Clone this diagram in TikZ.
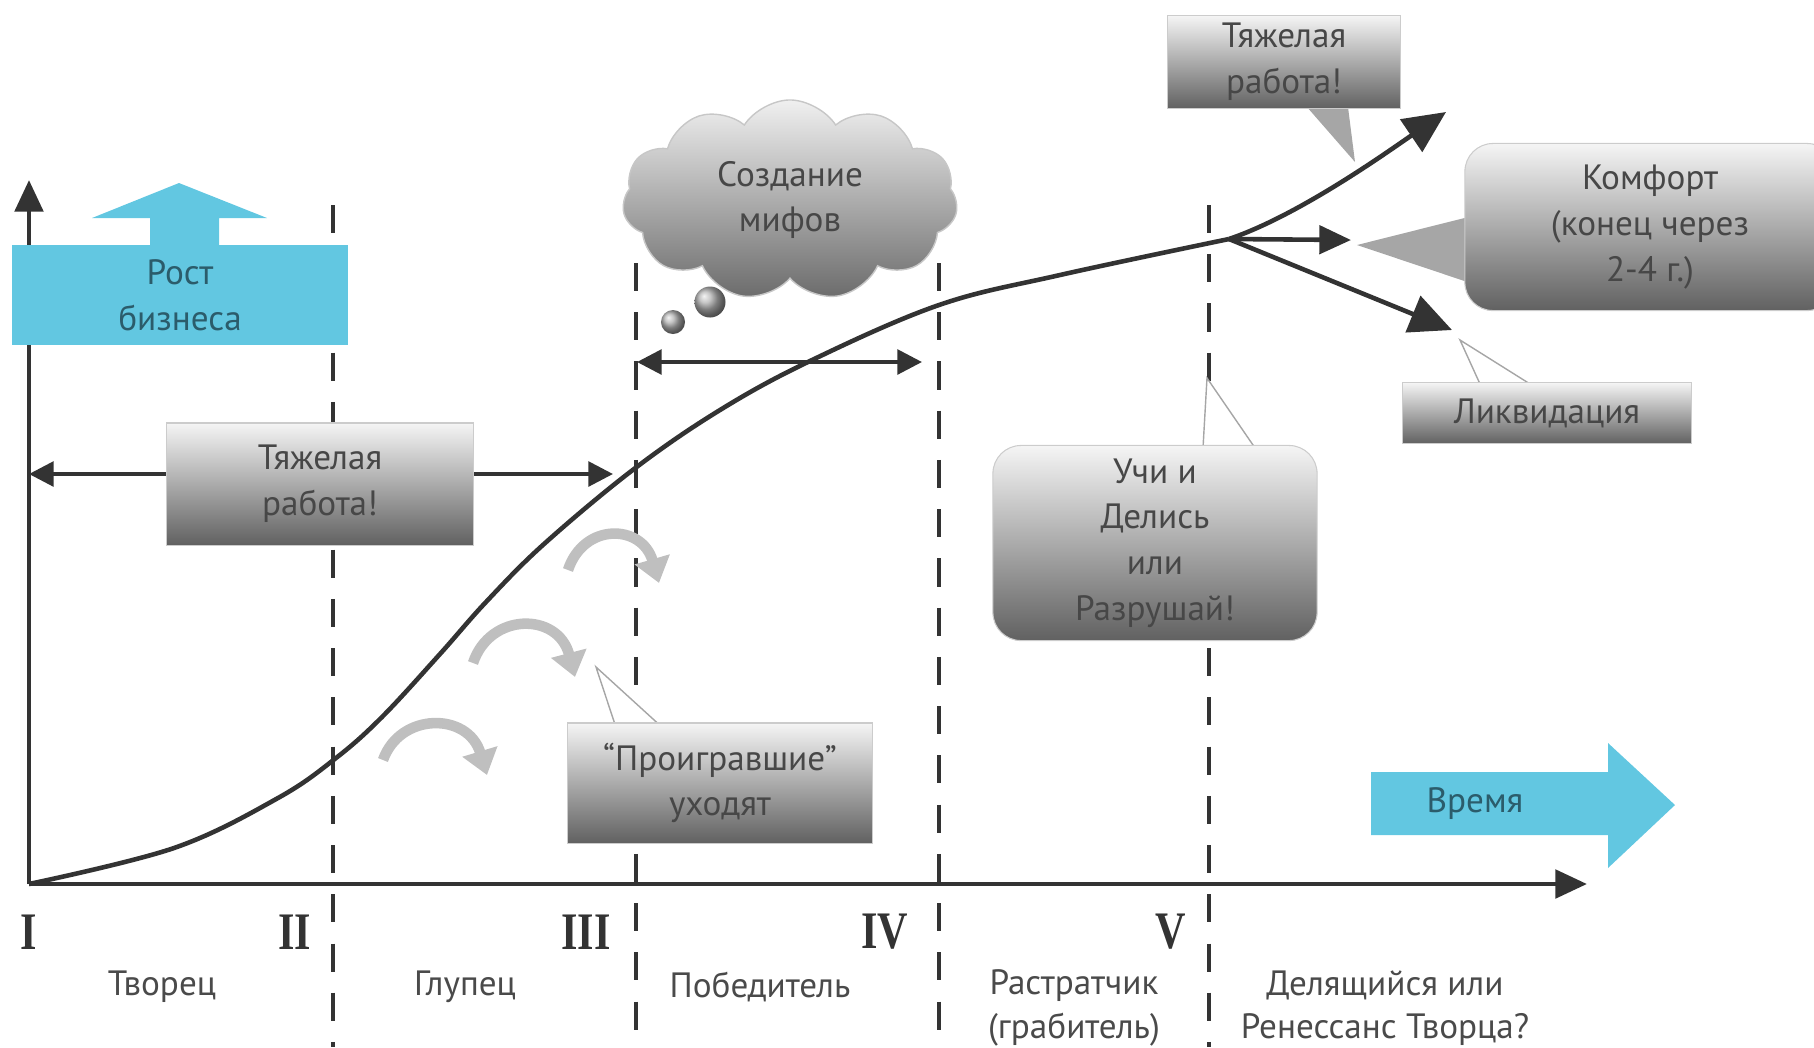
\documentclass[tikz,border=0pt]{standalone}
\usepackage{fontspec}
\setmainfont{PT Sans}
\newfontfamily\romfont[FakeStretch=0.8]{Liberation Serif}
\usepackage{tikz}
\usetikzlibrary{shapes.symbols}
\usetikzlibrary{arrows.meta,calc}

\definecolor{ink}{HTML}{333333}
\definecolor{txt}{HTML}{4A4A4A}
\definecolor{skyb}{HTML}{62C7E1}
\definecolor{skyt}{HTML}{2B5C6B}

\pgfdeclarelayer{back}
\pgfdeclarelayer{mid}
\pgfsetlayers{back,mid,main}

\tikzset{
  gbox/.style={rectangle, top color=black!4, bottom color=black!62, draw=black!20, line width=0.3pt,
    text=black!72, align=center, font=\fontsize{10}{13}\selectfont, inner sep=0pt},
  rbox/.style={gbox, rounded corners=8pt},
  bluebox/.style={rectangle, fill=skyb, text=skyt, align=center, font=\fontsize{10}{13}\selectfont,
    inner sep=0pt, minimum width=3.35cm, minimum height=1cm},
  bubble/.style={circle, ball color=black!30, inner sep=0pt},
  vline/.style={ink, line width=1.1pt, dash pattern=on 8pt off 6pt},
  axis/.style={ink, line width=1.4pt, -{Triangle[length=9pt,width=8pt]}},
  span/.style={ink, line width=1.1pt, -{Triangle[length=7pt,width=7pt]}},
  lifeline/.style={ink, line width=1.3pt},
  callout/.style={draw=black!35, fill=white, line width=0.4pt},
  loser/.style={black!25, line width=3pt, -{Triangle[length=7pt,width=10pt]}},
  lbl/.style={text=txt, font=\fontsize{10}{12.3}\selectfont, align=center, inner sep=0pt},
  num/.style={text=ink, font=\romfont\bfseries\fontsize{15}{15}\selectfont, inner sep=0pt}
}

\begin{document}
\begin{tikzpicture}[x=0.01cm, y=-0.01cm]
\useasboundingbox (0,0) rectangle (1814,1047);

% Nodes
\node[bluebox] (growth) at (180,295) {Рост\\бизнеса};
\node[gbox, minimum width=3.07cm, minimum height=1.22cm] (hard1) at (320,484) {Тяжелая\\работа!};
\node[cloud, cloud puffs=11, cloud puff arc=115, aspect=1.7, minimum width=3.35cm, minimum height=2cm,
  top color=black!6, bottom color=black!58, draw=black!22, text=black!72, align=center,
  font=\fontsize{10}{13}\selectfont, inner sep=0pt] (myth) at (790,200) {Создание\\мифов};
\node[bubble, minimum size=0.31cm] (b1) at (710,302) {};
\node[bubble, minimum size=0.24cm] (b2) at (673,322) {};
\node[gbox, minimum width=3.05cm, minimum height=1.2cm] (lose) at (720,783) {“Проигравшие”\\уходят};
\node[rbox, minimum width=3.24cm, minimum height=1.95cm] (teach) at (1155,543) {Учи и\\Делись\\или\\Разрушай!};
\node[gbox, minimum width=2.32cm, minimum height=0.93cm] (hard2) at (1284,62) {Тяжелая\\работа!};
\node[rbox, minimum width=3.7cm, minimum height=1.67cm] (comf) at (1650,227) {Комфорт\\(конец через\\2-4 г.)};
\node[gbox, minimum width=2.89cm, minimum height=0.61cm] (liq) at (1547,413) {Ликвидация};
\node[text=skyt, font=\fontsize{10}{13}\selectfont, inner sep=0pt] (time) at (1475,804) {Время};

% Stages
\node[num] (n1) at (29,932) {I};
\node[num] (n2) at (295,932) {II};
\node[num] (n3) at (586,932) {III};
\node[num] (n4) at (885,932) {IV};
\node[num] (n5) at (1171,932) {V};
\node[lbl] (s1) at (162,987) {Творец};
\node[lbl] (s2) at (465,987) {Глупец};
\node[lbl] (s3) at (760,987) {Победитель};
\node[lbl] (s4) at (1074,1008) {Растратчик\\(грабитель)};
\node[lbl] (s5) at (1385,1008) {Делящийся или\\Ренессанс Творца?};

% Points
\coordinate (O) at (29,884);
\coordinate (ytop) at (29,180);
\coordinate (xend) at (1587,884);
\coordinate (br) at (1229,239);
\coordinate (up) at (1446,112);
\coordinate (mid) at (1351,240);
\coordinate (down) at (1452,330);
\coordinate (h1l) at (29,474);
\coordinate (h1r) at (613,474);
\coordinate (m1) at (637,362);
\coordinate (m2) at (922,362);

\begin{pgfonlayer}{back}
\draw[axis] (O) -- (ytop);
\draw[axis] (O) -- (xend);
\foreach \x/\y in {333/205, 636/263, 939/263, 1209/205}
  \draw[vline] (\x,\y) -- (\x,1047);
\draw[lifeline] plot[smooth, tension=0.6] coordinates {(29,884) (174,848) (278,798) (336,758) (382,717)
  (440,654) (486,602) (544,544) (634,469) (720,410) (810,361) (939,305) (1060,275) (1229,239)};
\draw[lifeline, -{Triangle[length=12pt,width=11pt]}] (br) .. controls (1300,215) and (1390,150) .. (up);
\draw[lifeline, -{Triangle[length=9pt,width=8pt]}] (br) -- (mid);
\draw[lifeline, -{Triangle[length=12pt,width=11pt]}] (br) -- (down);
\draw[span] (hard1.west |- h1l) -- (h1l);
\draw[span] (hard1.east |- h1r) -- (h1r);
\draw[span, {Triangle[length=7pt,width=7pt]}-{Triangle[length=7pt,width=7pt]}] (m1) -- (m2);
\fill[skyb] (1371,772) -- (1608,772) -- (1608,743) -- (1675,805) -- (1608,868) -- (1608,835) -- (1371,835) -- cycle;
\end{pgfonlayer}

\begin{pgfonlayer}{mid}
\fill[black!35] ($(hard2.south)+(23,-2)$) -- (1355,162) -- ($(hard2.south)+(64,-2)$) -- cycle;
\fill[black!35] ($(comf.west)+(12,-12)$) -- (1357,245) -- ($(comf.west)+(12,58)$) -- cycle;
\draw[callout] ($(liq.north)+(-67,2)$) -- (1460,340) -- ($(liq.north)+(-17,2)$);
\draw[callout] ($(teach.north)+(48,3)$) -- (1207,378) -- ($(teach.north)+(100,3)$);
\draw[callout] ($(lose.north)+(-105,2)$) -- (596,667) -- ($(lose.north)+(-61,2)$);
\end{pgfonlayer}

\fill[skyb] (150,246) -- (150,218) -- (92,218) -- (179,183) -- (267,218) -- (219,218) -- (219,246) -- cycle;

% Leaving arrows
\draw[loser] (383,760) .. controls (400,712) and (468,712) .. (487,775);
\draw[loser] (473,663) .. controls (490,612) and (558,612) .. (575,677);
\draw[loser] (568,570) .. controls (584,522) and (642,524) .. (659,583);

\end{tikzpicture}
\end{document}
